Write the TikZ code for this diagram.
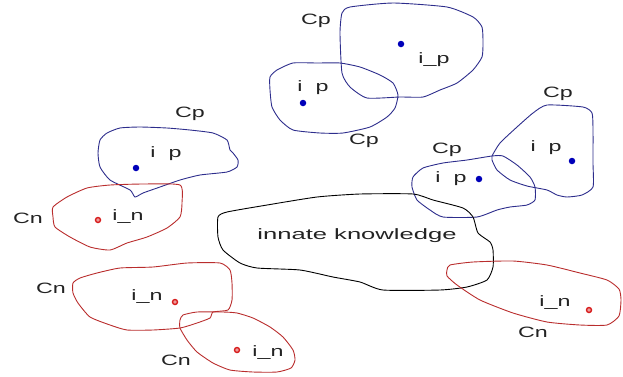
\documentclass[tikz,border=0pt]{standalone}
\usepackage{fontspec}
\setmainfont{Liberation Sans}
\definecolor{cpline}{RGB}{45,45,140}
\definecolor{cpdot}{RGB}{0,0,185}
\definecolor{cnline}{RGB}{185,45,45}
\definecolor{cndot}{RGB}{215,30,30}
\definecolor{txt}{RGB}{35,35,35}
\begin{document}
\begin{tikzpicture}[x=1pt,y=-1pt,
  cpreg/.style={draw=cpline,line width=0.9pt},
  cnreg/.style={draw=cnline,line width=0.9pt},
  ikreg/.style={draw=black,line width=0.9pt},
  lbl/.style={inner sep=0pt,text=txt,font=\fontsize{15}{18}\selectfont,xscale=1.55},
  pdot/.style={circle,fill=cpdot,inner sep=0pt,minimum size=6.5pt},
  ndot/.style={circle,draw=cndot,fill=cndot!45,line width=1.4pt,inner sep=0pt,minimum size=5pt}]
\useasboundingbox (0,0) rectangle (623,376);
% Cp regions
\draw[cpreg] plot[smooth cycle,tension=0.35] coordinates {(342,13) (350,7) (393,3) (447,7) (473,17) (482,27) (483,43) (482,57) (473,70) (457,83) (440,90) (423,97) (400,97) (367,98) (350,87) (342,73) (340,33)};
\draw[cpreg] plot[smooth cycle,tension=0.35] coordinates {(270,77) (277,70) (293,63) (317,63) (340,63) (360,67) (380,75) (393,83) (398,95) (395,108) (387,117) (370,127) (343,133) (320,133) (293,130) (280,120) (272,107) (270,90)};
\draw[cpreg] plot[smooth cycle,tension=0.35] coordinates {(100,140) (107,133) (120,128) (140,127) (167,128) (190,130) (213,133) (227,140) (230,150) (233,153) (238,160) (237,167) (227,172) (200,175) (180,180) (160,187) (143,193) (135,197) (130,190) (110,180) (100,167) (98,153)};
\draw[cpreg] plot[smooth cycle,tension=0.35] coordinates {(413,177) (423,168) (443,163) (467,160) (492,156) (503,156) (517,165) (530,177) (535,187) (535,200) (527,205) (510,207) (497,210) (477,217) (443,217) (430,210) (417,200) (412,187)};
\draw[cpreg] plot[smooth cycle,tension=0.35] coordinates {(492,156) (500,143) (517,127) (533,113) (547,105) (583,107) (592,113) (593,130) (593,163) (593,187) (582,195) (567,197) (557,195) (547,190) (527,186) (510,180) (497,170) (492,160)};
% innate knowledge
\draw[ikreg] plot[smooth cycle,tension=0.35] coordinates {(218,217) (227,212) (267,205) (317,197) (360,194) (413,194) (433,200) (463,208) (473,217) (478,233) (490,242) (493,250) (493,267) (487,280) (467,287) (440,290) (383,290) (360,282) (333,277) (300,270) (257,268) (240,263) (223,250) (218,237)};
% Cn regions
\draw[cnreg] plot[smooth cycle,tension=0.35] coordinates {(53,207) (67,197) (87,188) (110,185) (143,184) (180,185) (182,203) (180,217) (167,228) (147,237) (127,243) (110,250) (90,247) (70,237) (55,227) (53,217)};
\draw[cnreg] plot[smooth cycle,tension=0.35] coordinates {(447,270) (450,265) (473,262) (513,261) (547,265) (580,273) (607,280) (619,289) (621,300) (619,316) (607,325) (580,325) (547,322) (513,313) (480,300) (457,285) (447,276)};
\draw[cnreg] plot[smooth cycle,tension=0.35] coordinates {(73,283) (80,278) (97,273) (120,268) (153,267) (187,263) (220,263) (230,270) (232,283) (232,300) (228,310) (213,312) (210,318) (197,323) (180,328) (153,330) (127,330) (110,325) (90,317) (78,303) (73,293)};
\draw[cnreg] plot[smooth cycle,tension=0.35] coordinates {(180,320) (183,315) (197,312) (223,312) (237,313) (253,318) (270,327) (283,337) (293,350) (295,360) (291,368) (277,372) (253,372) (230,370) (213,363) (197,352) (187,340) (180,328)};
% dots
\node[pdot] (p1) at (401,44) {};
\node[pdot] (p2) at (303,103) {};
\node[pdot] (p3) at (136,168) {};
\node[pdot] (p4) at (479,179) {};
\node[pdot] (p5) at (572,161) {};
\node[ndot] (n1) at (98,220) {};
\node[ndot] (n2) at (175,302) {};
\node[ndot] (n3) at (237,350) {};
\node[ndot] (n4) at (589,310) {};
% labels
\node[lbl] (c1) at (316,21) {Cp};
\node[lbl] (i1) at (434,60) {i\_p};
\node[lbl] (i2) at (313,88) {i~~p};
\node[lbl] (c2) at (364,141) {Cp};
\node[lbl] (c3) at (190,114) {Cp};
\node[lbl] (i3) at (166,154) {i~~p};
\node[lbl] (c4) at (447,150) {Cp};
\node[lbl] (i4) at (451,179) {i~~p};
\node[lbl] (c5) at (558,94) {Cp};
\node[lbl] (i5) at (546,148) {i~~p};
\node[lbl] (c6) at (28,218) {Cn};
\node[lbl] (i6) at (128,217) {i\_n};
\node[lbl,xscale=1.1] (ik) at (357,236) {innate knowledge};
\node[lbl] (c7) at (51,288) {Cn};
\node[lbl] (i7) at (147,297) {i\_n};
\node[lbl] (c8) at (176,360) {Cn};
\node[lbl] (i8) at (268,353) {i\_n};
\node[lbl] (i9) at (555,303) {i\_n};
\node[lbl] (c9) at (533,332) {Cn};
\end{tikzpicture}
\end{document}
